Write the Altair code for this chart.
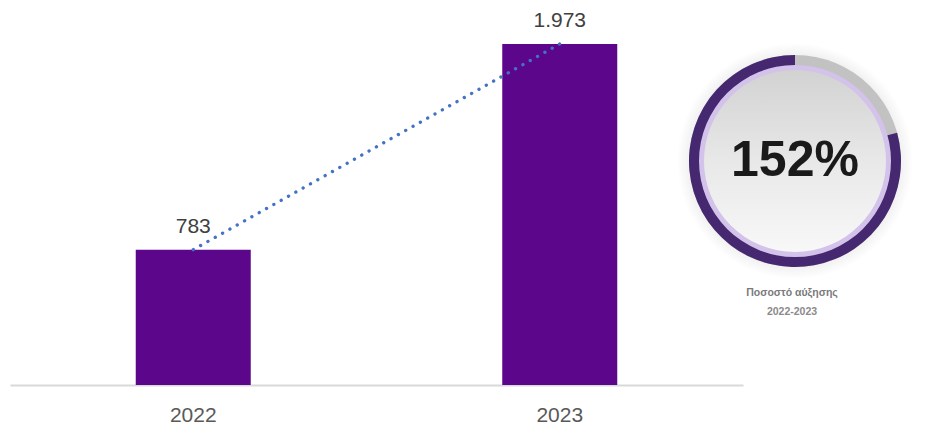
import altair as alt
import pandas as pd

years = ["2022", "2023"]
values = [783, 1973]
labels = [f"{v:,}".replace(",", ".") for v in values]
change_pct = round((values[1] - values[0]) / values[0] * 100)
badge_text = [f"{change_pct}%"]
caption_1 = ["Ποσοστό αύξησης"]
caption_2 = ["2022-2023"]

df = pd.DataFrame({"year": years, "value": values, "label": labels})
badge_df = pd.DataFrame({"t": badge_text})

W, H = 733, 377
YMAX = 2181
CX, CY = 785, 153

FONT = "Liberation Sans"

x = alt.X(
    "year:N",
    scale=alt.Scale(paddingInner=0, paddingOuter=0),
    axis=alt.Axis(
        title=None, ticks=False, domainColor="#d9d9d9", domainWidth=2,
        labelFontSize=21, labelColor="#595959", labelFont=FONT,
        labelPadding=19, labelAngle=0,
    ),
)
y = alt.Y("value:Q", scale=alt.Scale(domain=[0, YMAX], nice=False), axis=None)

base = alt.Chart(df).encode(x=x, y=y)
bars = base.mark_bar(size=115, color="#5C068C")
line = base.mark_line(color="#4472C4", strokeWidth=3.3, strokeDash=[0.1, 8.3], strokeCap="round")
text = base.mark_text(baseline="alphabetic", dy=-17, fontSize=21, font=FONT, color="#404040").encode(text="label:N")

pos = dict(x=alt.value(CX), y=alt.value(CY))
b = alt.Chart(badge_df)

halo = b.mark_arc(
    radius=0, radius2=118, theta=0, theta2=6.2832,
    color=alt.RadialGradient(
        gradient="radial", x1=0.5, y1=0.5, r1=0, x2=0.5, y2=0.5, r2=0.5,
        stops=[alt.GradientStop(color="#e4e4e4", offset=0.8),
               alt.GradientStop(color="#ffffff", offset=1)],
    ),
).encode(**pos)
ring_bg = b.mark_arc(radius=95, radius2=106, theta=0, theta2=6.2832, color="#c2c2c2").encode(**pos)
ring = b.mark_arc(radius=95, radius2=106, theta=1.3, theta2=6.2832, color="#45286f").encode(**pos)
lav = b.mark_arc(radius=90, radius2=96, theta=0, theta2=6.2832, color="#d3c2ea").encode(**pos)
inner = b.mark_arc(
    radius=0, radius2=91, theta=0, theta2=6.2832,
    color=alt.LinearGradient(
        gradient="linear", x1=0, y1=0, x2=0, y2=1,
        stops=[alt.GradientStop(color="#d2d2d2", offset=0),
               alt.GradientStop(color="#e8e8e8", offset=0.5),
               alt.GradientStop(color="#f8f8f8", offset=1)],
    ),
).encode(**pos)
pct = b.mark_text(fontSize=50, fontWeight="bold", font=FONT, color="#1a1a1a", baseline="middle", align="center").encode(
    x=alt.value(CX), y=alt.value(CY), text="t:N")

cap1 = alt.Chart(pd.DataFrame({"t": caption_1})).mark_text(
    fontSize=10.5, fontWeight="bold", font=FONT, color="#7a7a7a", baseline="middle", align="center"
).encode(x=alt.value(CX - 3), y=alt.value(285), text="t:N")
cap2 = alt.Chart(pd.DataFrame({"t": caption_2})).mark_text(
    fontSize=10.5, fontWeight="bold", font=FONT, color="#8a8a8a", baseline="middle", align="center"
).encode(x=alt.value(CX - 3), y=alt.value(304), text="t:N")

chart = alt.layer(bars, line, text, halo, ring_bg, ring, lav, inner, pct, cap1, cap2).properties(
    width=W, height=H,
    autosize=alt.AutoSizeParams(type="none"),
    padding={"left": 2, "top": 0, "right": 172, "bottom": 43},
).configure_view(stroke=None)

chart.save("out.html", embed_options={"renderer": "svg", "actions": False})
